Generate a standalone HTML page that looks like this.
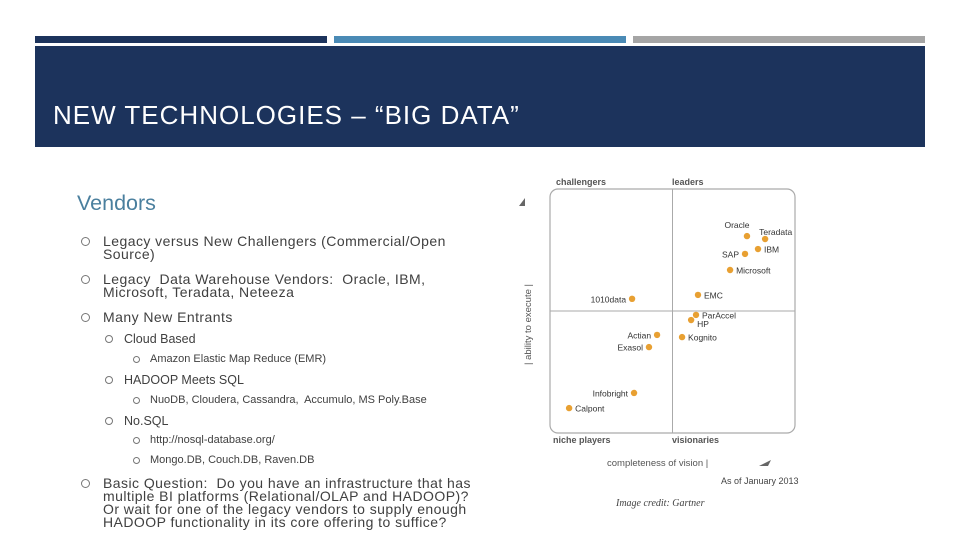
<!DOCTYPE html>
<html><head><meta charset="utf-8"><style>
body{margin:0;width:960px;height:540px;background:#fff;position:relative;overflow:hidden;font-family:"Liberation Sans",sans-serif;color:#404040}
.a{position:absolute;white-space:nowrap}
.t{font-size:14px;line-height:13px;letter-spacing:0.45px}
.b{position:absolute;width:7px;height:7px;border:1px solid #777;border-radius:50%}
.s{font-size:12.5px}.xs{font-size:11px}
</style></head><body>
<div class="a" style="left:35px;top:36px;width:292px;height:7px;background:#1c335c"></div>
<div class="a" style="left:334px;top:36px;width:292px;height:7px;background:#4a8ab5"></div>
<div class="a" style="left:633px;top:36px;width:292px;height:7px;background:#a5a5a5"></div>
<div class="a" style="left:35px;top:46px;width:890px;height:101px;background:#1c335c"></div>
<div class="a" style="left:53px;top:100px;font-size:26px;letter-spacing:1px;color:#fff">NEW TECHNOLOGIES – “BIG DATA”</div>
<div class="a" style="left:77px;top:191px;font-size:21.5px;color:#4a7f9e">Vendors</div>
<div class="b" style="left:81px;top:237px"></div>
<div class="a t" style="left:103px;top:235px">Legacy versus New Challengers (Commercial/Open<br>Source)</div>
<div class="b" style="left:81px;top:275px"></div>
<div class="a t" style="left:103px;top:273px">Legacy&nbsp; Data Warehouse Vendors:&nbsp; Oracle, IBM,<br>Microsoft, Teradata, Neteeza</div>
<div class="b" style="left:81px;top:313px"></div>
<div class="a t" style="left:103px;top:311px">Many New Entrants</div>
<div class="b" style="left:105px;top:335px;width:6px;height:6px"></div>
<div class="a s" style="left:124px;top:332px">Cloud Based</div>
<div class="b" style="left:133px;top:356px;width:5px;height:5px"></div>
<div class="a xs" style="left:150px;top:353px">Amazon Elastic Map Reduce (EMR)</div>
<div class="b" style="left:105px;top:376px;width:6px;height:6px"></div>
<div class="a s" style="left:124px;top:373px">HADOOP Meets SQL</div>
<div class="b" style="left:133px;top:397px;width:5px;height:5px"></div>
<div class="a xs" style="left:150px;top:394px">NuoDB, Cloudera, Cassandra,&nbsp; Accumulo, MS Poly.Base</div>
<div class="b" style="left:105px;top:417px;width:6px;height:6px"></div>
<div class="a s" style="left:124px;top:414px">No.SQL</div>
<div class="b" style="left:133px;top:437px;width:5px;height:5px"></div>
<div class="a xs" style="left:150px;top:434px">http://nosql-database.org/</div>
<div class="b" style="left:133px;top:457px;width:5px;height:5px"></div>
<div class="a xs" style="left:150px;top:454px">Mongo.DB, Couch.DB, Raven.DB</div>
<div class="b" style="left:81px;top:479px"></div>
<div class="a t" style="left:103px;top:477px">Basic Question:&nbsp; Do you have an infrastructure that has<br>multiple BI platforms (Relational/OLAP and HADOOP)?<br>Or wait for one of the legacy vendors to supply enough<br>HADOOP functionality in its core offering to suffice?</div>

<svg class="a" style="left:0;top:0" width="960" height="540" font-family="Liberation Sans, sans-serif">
<g id="chart"></g>
</svg>
<script>
const vendors=["Oracle","Teradata","IBM","SAP","Microsoft","EMC","1010data","ParAccel","HP","Kognito","Actian","Exasol","Infobright","Calpont"];
const vision=[80.4,87.8,84.9,79.6,73.5,60.4,33.5,59.6,57.6,53.9,43.7,40.4,34.3,7.8];
const execute=[80.7,79.5,75.4,73.4,66.8,56.6,55.0,48.4,46.3,39.3,40.2,35.2,16.4,10.2];
const labelSide=["above","aboveR","right","left","right","right","left","right","right","right","left","left","left","right"];
const X0=550,X1=795,Y0=433,Y1=189;
const sx=v=>X0+(X1-X0)*v/100, sy=v=>Y0-(Y0-Y1)*v/100;
const g=document.getElementById('chart');
const NS="http://www.w3.org/2000/svg";
function el(t,a,txt){const e=document.createElementNS(NS,t);for(const k in a)e.setAttribute(k,a[k]);if(txt!==undefined)e.textContent=txt;g.appendChild(e);return e;}
let e;
e=el('rect',{x:X0,y:Y1,width:X1-X0,height:Y0-Y1,rx:8,fill:'none',stroke:'#aaa','stroke-width':1.2});


e=el('line',{x1:sx(50),x2:sx(50),y1:Y1,y2:Y0,stroke:'#aaa'});


e=el('line',{x1:X0,x2:X1,y1:sy(50),y2:sy(50),stroke:'#aaa'});


const quads=[["challengers",556,185],["leaders",672,185],["niche players",553,443],["visionaries",672,443]];
quads.forEach(q=>{e=el('text',{x:q[1],y:q[2],'font-size':9,'font-weight':'bold',fill:'#555'},q[0]);

});
e=el('text',{x:607,y:466,'font-size':9.5,fill:'#555'},'completeness of vision  |');


e=el('text',{x:0,y:0,'font-size':9.5,fill:'#555',transform:'translate(531,365) rotate(-90)'},'|  ability to execute  |');


e=el('polygon',{points:'519,206 525,198 525,206',fill:'#666'});


e=el('polygon',{points:'759,466 771,460 768,466',fill:'#666'});


e=el('text',{x:721,y:484,'font-size':9,fill:'#444'},'As of January 2013');


e=el('text',{x:616,y:506,'font-size':10,'font-style':'italic','font-family':'Liberation Serif, serif',fill:'#444'},'Image credit: Gartner');


vendors.forEach((n,i)=>{
 const x=sx(vision[i]),y=sy(execute[i]);
 e=el('circle',{cx:x,cy:y,r:3.2,fill:'#e8a032'});
 
 
 let tx,ty,anchor;
 const s=labelSide[i];
 if(s==='left'){tx=x-6;ty=y+3.5;anchor='end';}
 else if(s==='right'){tx=x+6;ty=y+3.5;anchor='start';}
 else if(s==='above'){tx=x-10;ty=y-8;anchor='middle';}
 else {tx=x-6;ty=y-4;anchor='start';}
 if(n==='HP'){ty=y+7;}
 e=el('text',{x:tx,y:ty,'font-size':8.5,fill:'#333','text-anchor':anchor},n);
 
 
});
</script>
</body></html>
